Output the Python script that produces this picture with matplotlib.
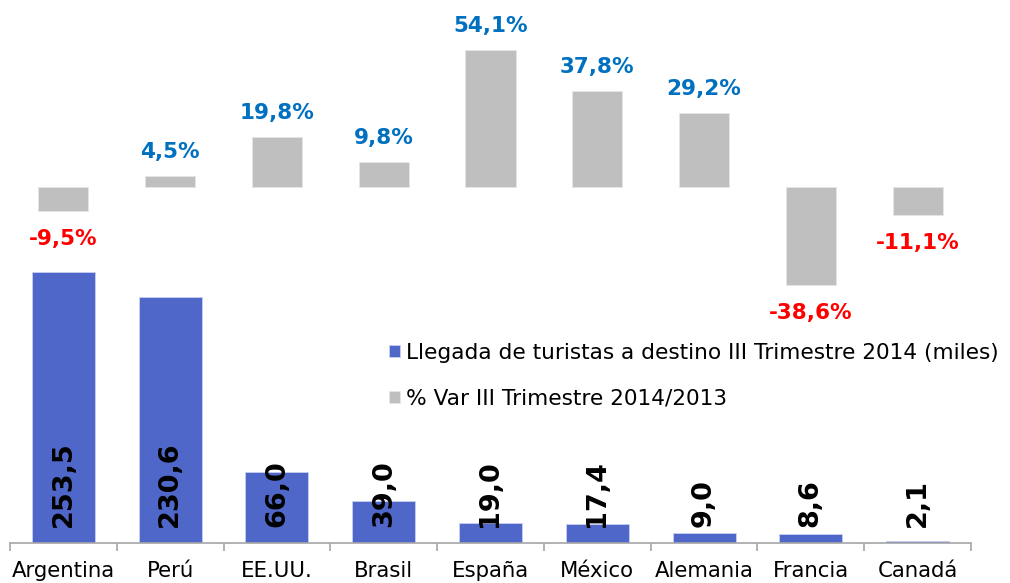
import numpy as np
import matplotlib.pyplot as plt

paises = ["Argentina", "Perú", "EE.UU.", "Brasil", "España", "México", "Alemania", "Francia", "Canadá"]
llegadas = [253.5, 230.6, 66.0, 39.0, 19.0, 17.4, 9.0, 8.6, 2.1]
variacion = [-9.5, 4.5, 19.8, 9.8, 54.1, 37.8, 29.2, -38.6, -11.1]

azul = "#4F67C8"
gris = "#BFBFBF"

plt.rcParams['font.family'] = ['DejaVu Sans']

fig = plt.figure(figsize=(10.1, 5.83), dpi=100)
ax = fig.add_axes([10 / 1010, 40 / 583, 961 / 1010, 543 / 583])
x = np.arange(len(paises))

# blue bars: arrivals (thousands)
b1 = ax.bar(x, llegadas, width=0.59, color=azul, edgecolor="#C8D0F0", linewidth=0.6,
            label="Llegada de turistas a destino III Trimestre 2014 (miles)", zorder=2)
ax.set_ylim(0, 508)
ax.set_xlim(-0.5, len(paises) - 0.5)
for xi, v in zip(x, llegadas):
    ax.text(xi, 15, f"{v:.1f}".replace(".", ","), rotation=90, ha="center", va="bottom",
            fontsize=19.5, fontweight="bold", color="black", zorder=3)

# grey bars: % variation on a twin axis
ax2 = ax.twinx()
b2 = ax2.bar(x, variacion, width=0.47, color=gris, edgecolor="#E6E6E6", linewidth=0.6,
             label="% Var III Trimestre 2014/2013", zorder=2)
ax2.set_ylim(-140.4, 73.8)
for xi, v in zip(x, variacion):
    txt = f"{v:.1f}%".replace(".", ",")
    if v >= 0:
        ax2.text(xi, v + 5.5, txt, ha="center", va="bottom", fontsize=15.5,
                 fontweight="bold", color="#0070C0")
    else:
        ax2.text(xi, v - 7, txt, ha="center", va="top", fontsize=15.5,
                 fontweight="bold", color="#FF0000")

for a in (ax, ax2):
    for s in ["top", "right", "left"]:
        a.spines[s].set_visible(False)
    a.set_yticks([])
ax2.spines["bottom"].set_visible(False)
ax.spines["bottom"].set_color("#A6A6A6")
ax.spines["bottom"].set_linewidth(1.2)

ax.set_xticks(x)
ax.set_xticklabels(paises, fontsize=15.3)
ax.tick_params(axis="x", which="major", length=0, pad=13)
ax.set_xticks(np.arange(len(paises) + 1) - 0.5, minor=True)
ax.tick_params(axis="x", which="minor", length=6, color="#A6A6A6", width=1.2)

fig.legend([b1, b2], [b1.get_label(), b2.get_label()], loc="upper left",
           bbox_to_anchor=(380 / 1010, 1 - 334 / 583), frameon=False, fontsize=15.6,
           handlelength=0.5, handleheight=0.5, handletextpad=0.3, labelspacing=1.2,
           borderaxespad=0)

fig.savefig("out.png", dpi=100)
